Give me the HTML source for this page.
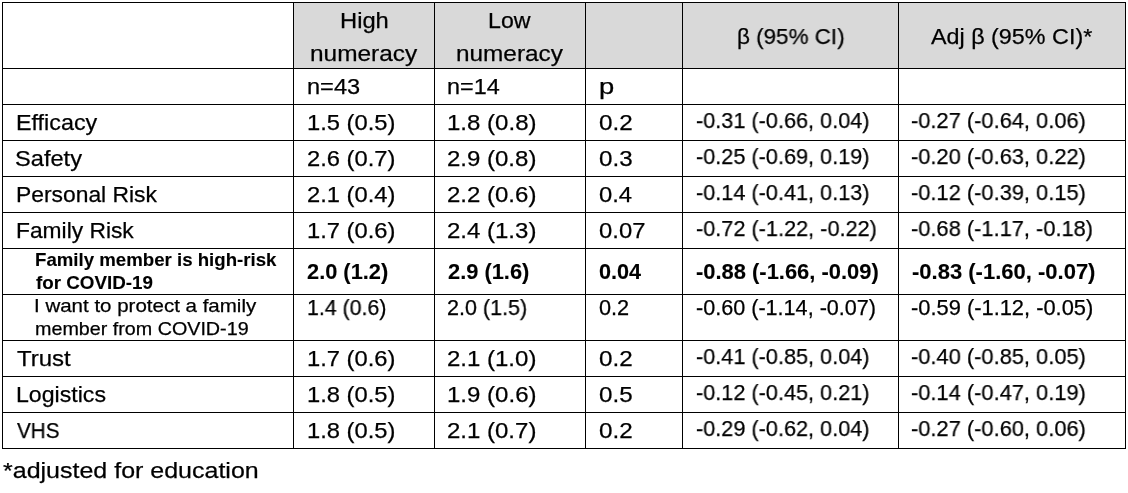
<!DOCTYPE html>
<html><head><meta charset="utf-8"><style>
html,body{margin:0;padding:0;background:#fff;width:1128px;height:493px;overflow:hidden;}
body{position:relative;font-family:"Liberation Sans",sans-serif;color:#000;}
.l{position:absolute;background:#000;}
.t{position:absolute;white-space:pre;line-height:1;transform-origin:0 0;will-change:transform;-webkit-text-stroke:0.25px #000;}
.b{font-weight:bold;-webkit-text-stroke:0.12px #000;}
</style></head><body>
<div style="position:absolute;left:294px;top:3px;width:831px;height:65px;background:#d9d9d9"></div>
<div class="l" style="left:2px;top:2px;width:1124px;height:1px"></div>
<div class="l" style="left:2px;top:68px;width:1124px;height:1px"></div>
<div class="l" style="left:2px;top:104px;width:1124px;height:1px"></div>
<div class="l" style="left:2px;top:140px;width:1124px;height:1px"></div>
<div class="l" style="left:2px;top:176px;width:1124px;height:1px"></div>
<div class="l" style="left:2px;top:212px;width:1124px;height:1px"></div>
<div class="l" style="left:2px;top:248px;width:1124px;height:1px"></div>
<div class="l" style="left:2px;top:294px;width:1124px;height:1px"></div>
<div class="l" style="left:2px;top:340px;width:1124px;height:1px"></div>
<div class="l" style="left:2px;top:376px;width:1124px;height:1px"></div>
<div class="l" style="left:2px;top:412px;width:1124px;height:1px"></div>
<div class="l" style="left:2px;top:448px;width:1124px;height:1px"></div>
<div class="l" style="left:2px;top:2px;width:1px;height:447px"></div>
<div class="l" style="left:293px;top:2px;width:1px;height:447px"></div>
<div class="l" style="left:434px;top:2px;width:1px;height:447px"></div>
<div class="l" style="left:585px;top:2px;width:1px;height:447px"></div>
<div class="l" style="left:682px;top:2px;width:1px;height:447px"></div>
<div class="l" style="left:898px;top:2px;width:1px;height:447px"></div>
<div class="l" style="left:1125px;top:2px;width:1px;height:447px"></div>
<div id="t0" class="t" style="left:340.06px;top:10.17px;font-size:22.60px;transform:scaleX(1.0508)">High</div>
<div id="t1" class="t" style="left:310.47px;top:42.87px;font-size:22.60px;transform:scaleX(1.0809)">numeracy</div>
<div id="t2" class="t" style="left:487.91px;top:10.27px;font-size:22.60px;transform:scaleX(1.0255)">Low</div>
<div id="t3" class="t" style="left:455.69px;top:42.57px;font-size:22.60px;transform:scaleX(1.0778)">numeracy</div>
<div id="t4" class="t" style="left:737.20px;top:26.17px;font-size:22.60px;transform:scaleX(0.9926)">β (95% CI)</div>
<div id="t5" class="t" style="left:931.22px;top:26.17px;font-size:22.60px;transform:scaleX(1.0326)">Adj β (95% CI)*</div>
<div id="t6" class="t" style="left:307.09px;top:76.27px;font-size:22.60px;transform:scaleX(1.0441)">n=43</div>
<div id="t7" class="t" style="left:447.11px;top:75.97px;font-size:22.60px;transform:scaleX(1.0353)">n=14</div>
<div id="t8" class="t" style="left:598.79px;top:75.67px;font-size:22.60px;transform:scaleX(1.2130)">p</div>
<div id="t9" class="t" style="left:16.03px;top:112.17px;font-size:22.60px;transform:scaleX(1.0322)">Efficacy</div>
<div id="t10" class="t" style="left:307.07px;top:112.17px;font-size:22.60px;transform:scaleX(1.0503)">1.5 (0.5)</div>
<div id="t11" class="t" style="left:446.68px;top:112.17px;font-size:22.60px;transform:scaleX(1.0637)">1.8 (0.8)</div>
<div id="t12" class="t" style="left:599.10px;top:112.17px;font-size:22.60px;transform:scaleX(1.0735)">0.2</div>
<div id="t13" class="t" style="left:695.67px;top:110.17px;font-size:22.60px;transform:scaleX(0.9594)">-0.31 (-0.66, 0.04)</div>
<div id="t14" class="t" style="left:911.12px;top:110.17px;font-size:22.60px;transform:scaleX(0.9670)">-0.27 (-0.64, 0.06)</div>
<div id="t15" class="t" style="left:14.76px;top:148.17px;font-size:22.60px;transform:scaleX(1.0452)">Safety</div>
<div id="t16" class="t" style="left:307.49px;top:148.17px;font-size:22.60px;transform:scaleX(1.0511)">2.6 (0.7)</div>
<div id="t17" class="t" style="left:446.91px;top:148.17px;font-size:22.60px;transform:scaleX(1.0621)">2.9 (0.8)</div>
<div id="t18" class="t" style="left:598.80px;top:148.17px;font-size:22.60px;transform:scaleX(1.0689)">0.3</div>
<div id="t19" class="t" style="left:695.67px;top:146.17px;font-size:22.60px;transform:scaleX(0.9594)">-0.25 (-0.69, 0.19)</div>
<div id="t20" class="t" style="left:911.12px;top:146.17px;font-size:22.60px;transform:scaleX(0.9670)">-0.20 (-0.63, 0.22)</div>
<div id="t21" class="t" style="left:15.72px;top:184.17px;font-size:22.60px;transform:scaleX(1.0113)">Personal Risk</div>
<div id="t22" class="t" style="left:307.49px;top:184.17px;font-size:22.60px;transform:scaleX(1.0511)">2.1 (0.4)</div>
<div id="t23" class="t" style="left:446.91px;top:184.17px;font-size:22.60px;transform:scaleX(1.0621)">2.2 (0.6)</div>
<div id="t24" class="t" style="left:599.08px;top:184.17px;font-size:22.60px;transform:scaleX(1.0539)">0.4</div>
<div id="t25" class="t" style="left:695.67px;top:182.17px;font-size:22.60px;transform:scaleX(0.9594)">-0.14 (-0.41, 0.13)</div>
<div id="t26" class="t" style="left:911.12px;top:182.17px;font-size:22.60px;transform:scaleX(0.9670)">-0.12 (-0.39, 0.15)</div>
<div id="t27" class="t" style="left:16.42px;top:220.17px;font-size:22.60px;transform:scaleX(1.0088)">Family Risk</div>
<div id="t28" class="t" style="left:307.07px;top:220.17px;font-size:22.60px;transform:scaleX(1.0503)">1.7 (0.6)</div>
<div id="t29" class="t" style="left:446.91px;top:220.17px;font-size:22.60px;transform:scaleX(1.0621)">2.4 (1.3)</div>
<div id="t30" class="t" style="left:598.74px;top:220.17px;font-size:22.60px;transform:scaleX(1.0549)">0.07</div>
<div id="t31" class="t" style="left:696.04px;top:218.17px;font-size:22.60px;transform:scaleX(0.9603)">-0.72 (-1.22, -0.22)</div>
<div id="t32" class="t" style="left:911.12px;top:218.17px;font-size:22.60px;transform:scaleX(0.9664)">-0.68 (-1.17, -0.18)</div>
<div id="t33" class="t" style="left:16.94px;top:348.17px;font-size:22.60px;transform:scaleX(1.0620)">Trust</div>
<div id="t34" class="t" style="left:307.07px;top:348.17px;font-size:22.60px;transform:scaleX(1.0503)">1.7 (0.6)</div>
<div id="t35" class="t" style="left:446.91px;top:348.17px;font-size:22.60px;transform:scaleX(1.0621)">2.1 (1.0)</div>
<div id="t36" class="t" style="left:599.10px;top:348.17px;font-size:22.60px;transform:scaleX(1.0735)">0.2</div>
<div id="t37" class="t" style="left:695.67px;top:346.17px;font-size:22.60px;transform:scaleX(0.9594)">-0.41 (-0.85, 0.04)</div>
<div id="t38" class="t" style="left:911.12px;top:346.17px;font-size:22.60px;transform:scaleX(0.9670)">-0.40 (-0.85, 0.05)</div>
<div id="t39" class="t" style="left:15.80px;top:384.17px;font-size:22.60px;transform:scaleX(1.0234)">Logistics</div>
<div id="t40" class="t" style="left:307.07px;top:384.17px;font-size:22.60px;transform:scaleX(1.0503)">1.8 (0.5)</div>
<div id="t41" class="t" style="left:446.68px;top:384.17px;font-size:22.60px;transform:scaleX(1.0637)">1.9 (0.6)</div>
<div id="t42" class="t" style="left:598.82px;top:384.17px;font-size:22.60px;transform:scaleX(1.0691)">0.5</div>
<div id="t43" class="t" style="left:695.67px;top:382.17px;font-size:22.60px;transform:scaleX(0.9594)">-0.12 (-0.45, 0.21)</div>
<div id="t44" class="t" style="left:911.12px;top:382.17px;font-size:22.60px;transform:scaleX(0.9670)">-0.14 (-0.47, 0.19)</div>
<div id="t45" class="t" style="left:17.10px;top:420.17px;font-size:22.60px;transform:scaleX(0.9134)">VHS</div>
<div id="t46" class="t" style="left:307.07px;top:420.17px;font-size:22.60px;transform:scaleX(1.0503)">1.8 (0.5)</div>
<div id="t47" class="t" style="left:446.91px;top:420.17px;font-size:22.60px;transform:scaleX(1.0621)">2.1 (0.7)</div>
<div id="t48" class="t" style="left:599.10px;top:420.17px;font-size:22.60px;transform:scaleX(1.0735)">0.2</div>
<div id="t49" class="t" style="left:695.67px;top:418.17px;font-size:22.60px;transform:scaleX(0.9594)">-0.29 (-0.62, 0.04)</div>
<div id="t50" class="t" style="left:911.12px;top:418.17px;font-size:22.60px;transform:scaleX(0.9670)">-0.27 (-0.60, 0.06)</div>
<div id="t51" class="t b" style="left:35.16px;top:250.76px;font-size:18.60px;transform:scaleX(1.0028)">Family member is high-risk</div>
<div id="t52" class="t b" style="left:35.99px;top:274.46px;font-size:18.60px;transform:scaleX(1.0111)">for COVID-19</div>
<div id="t53" class="t b" style="left:307.18px;top:260.72px;font-size:21.60px;transform:scaleX(1.0098)">2.0 (1.2)</div>
<div id="t54" class="t b" style="left:447.79px;top:260.72px;font-size:21.60px;transform:scaleX(1.0115)">2.9 (1.6)</div>
<div id="t55" class="t b" style="left:598.93px;top:260.72px;font-size:21.60px;transform:scaleX(1.0019)">0.04</div>
<div id="t56" class="t b" style="left:695.99px;top:260.72px;font-size:21.60px;transform:scaleX(1.0148)">-0.88 (-1.66, -0.09)</div>
<div id="t57" class="t b" style="left:912.15px;top:260.72px;font-size:21.60px;transform:scaleX(1.0189)">-0.83 (-1.60, -0.07)</div>
<div id="t58" class="t" style="left:34.34px;top:296.92px;font-size:18.40px;transform:scaleX(1.1148)">I want to protect a family</div>
<div id="t59" class="t" style="left:35.04px;top:319.62px;font-size:18.40px;transform:scaleX(1.0719)">member from COVID-19</div>
<div id="t60" class="t" style="left:307.31px;top:297.12px;font-size:21.60px;transform:scaleX(0.9867)">1.4 (0.6)</div>
<div id="t61" class="t" style="left:447.46px;top:297.12px;font-size:21.60px;transform:scaleX(0.9961)">2.0 (1.5)</div>
<div id="t62" class="t" style="left:599.40px;top:297.12px;font-size:21.60px;transform:scaleX(1.0056)">0.2</div>
<div id="t63" class="t" style="left:696.22px;top:297.12px;font-size:21.60px;transform:scaleX(0.9997)">-0.60 (-1.14, -0.07)</div>
<div id="t64" class="t" style="left:910.97px;top:297.12px;font-size:21.60px;transform:scaleX(1.0125)">-0.59 (-1.12, -0.05)</div>
<div id="t65" class="t" style="left:3.00px;top:459.97px;font-size:22.60px;transform:scaleX(1.1064)">*adjusted for education</div>
</body></html>
